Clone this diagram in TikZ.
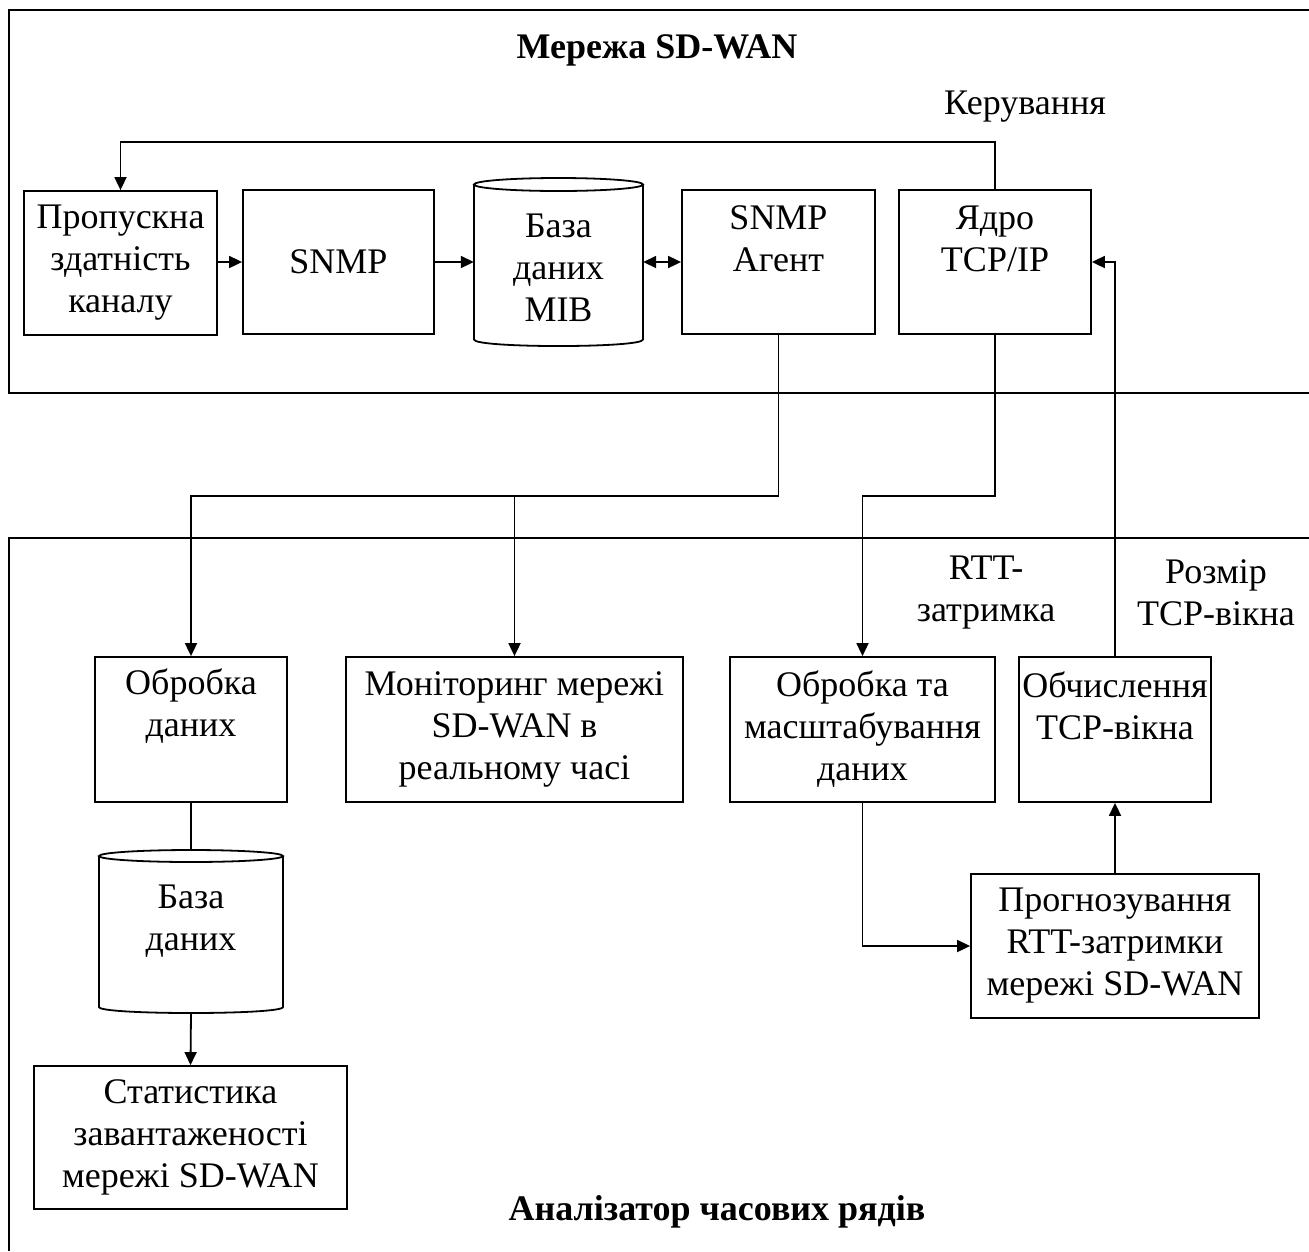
\documentclass[tikz,border=0pt]{standalone}
\usepackage{fontspec}
\setmainfont{Liberation Serif}
\usetikzlibrary{arrows.meta}
\begin{document}
\begin{tikzpicture}[x=1pt,y=-1pt,
  every node/.style={font=\fontsize{36}{42}\selectfont},
  box/.style={draw, line width=1.8pt, inner sep=0pt, align=center},
  hold/.style={inner sep=0pt},
  txt/.style={inner sep=0pt, align=center},
  ln/.style={line width=1.8pt},
  arr/.style={ln, -{Triangle[length=13pt,width=12pt]}},
  darr/.style={ln, {Triangle[length=13pt,width=12pt]}-{Triangle[length=13pt,width=12pt]}}
]
\useasboundingbox (0,0) rectangle (1309,1251);

% frames
\draw[ln] (1309,10) -- (9,10) -- (9,393) -- (1309,393);
\draw[ln] (1309,538) -- (9,538) -- (9,1251);

\node[txt, font=\fontsize{36}{42}\selectfont\bfseries] (t1) at (657,50) {Мережа SD-WAN};
\node[txt, font=\fontsize{36}{42}\selectfont\bfseries] (t2) at (717,1212) {Аналізатор часових рядів};

% top row
\node[box, minimum width=193pt, minimum height=144pt] (bw) at (120.5,263) {Пропускна\\здатність\\каналу};
\node[box, minimum width=191pt, minimum height=144pt] (snmp) at (338.5,262) {SNMP};
\node[hold, minimum width=169pt, minimum height=168pt] (mib) at (558.5,262) {};
\draw[ln] (474,184.5) -- (474,339.5) .. controls (474,348.2) and (643,348.2) .. (643,339.5) -- (643,184.5);
\draw[ln] (558.5,184.5) ellipse [x radius=84.5pt, y radius=6.5pt];
\node[txt] (mibt) at (558.5,268) {База\\даних\\MIB};
\node[box, minimum width=193pt, minimum height=144pt] (agent) at (778.5,262) {};
\node[txt] (agentt) at (778.5,239) {SNMP\\Агент};
\node[box, minimum width=192pt, minimum height=144pt] (yadro) at (995,262) {};
\node[txt] (yadrot) at (995,239) {Ядро\\TCP/IP};

\node[txt] (ctrl) at (1025,107) {Керування};

% bottom row
\node[box, minimum width=192pt, minimum height=145pt] (obd) at (191,729.5) {};
\node[txt] (obdt) at (191,706) {Обробка\\даних};
\node[box, minimum width=337pt, minimum height=145pt] (mon) at (514.5,729.5) {Моніторинг мережі\\SD-WAN в\\реальному часі};
\node[box, minimum width=265pt, minimum height=145pt] (obm) at (862.5,729.5) {Обробка та\\масштабування\\даних};
\node[box, minimum width=192pt, minimum height=145pt] (obch) at (1115,729.5) {};
\node[txt] (obcht) at (1115,706) {Обчислення\\TCP-вікна};

\node[txt] (rtt) at (986,593) {RTT-\\затримка};
\node[txt] (rozm) at (1216,593) {Розмір\\TCP-вікна};

\node[hold, minimum width=184pt, minimum height=163pt] (db) at (191,931.5) {};
\draw[ln] (99,856) -- (99,1007) .. controls (99,1015) and (283,1015) .. (283,1007) -- (283,856);
\draw[ln] (191,856) ellipse [x radius=92pt, y radius=6pt];
\node[txt] (dbt) at (191,921) {База\\даних};

\node[box, minimum width=313pt, minimum height=143pt] (stat) at (190.5,1137.5) {Статистика\\завантаженості\\мережі SD-WAN};
\node[box, minimum width=288pt, minimum height=144pt] (prog) at (1115,946) {Прогнозування\\RTT-затримки\\мережі SD-WAN};

% level coordinates
\coordinate (ctrlY) at (0,142);
\coordinate (busY) at (0,496);
\coordinate (tcpY) at (0,262);
\coordinate (progY) at (0,946);

% connectors
\draw[arr] (yadro.north) -- (yadro.north |- ctrlY) -| (bw.north);
\draw[arr] (bw.east |- snmp.west) -- (snmp.west);
\draw[arr] (snmp.east) -- (mib.west);
\draw[darr] (mib.east) -- (agent.west);
\draw[arr] (agent.south) -- (agent.south |- busY) -| (obd.north);
\draw[arr] (mon.north |- busY) -- (mon.north);
\draw[arr] (yadro.south) -- (yadro.south |- busY) -| (obm.north);
\draw[arr] (obch.north) -- (obch.north |- tcpY) -- (yadro.east);
\draw[arr] (prog.north) -- (obch.south);
\draw[arr] (obm.south) |- (prog.west);
\draw[ln] (obd.south) -- (db.north);
\draw[arr] (db.south) -- (stat.north);
\end{tikzpicture}
\end{document}
